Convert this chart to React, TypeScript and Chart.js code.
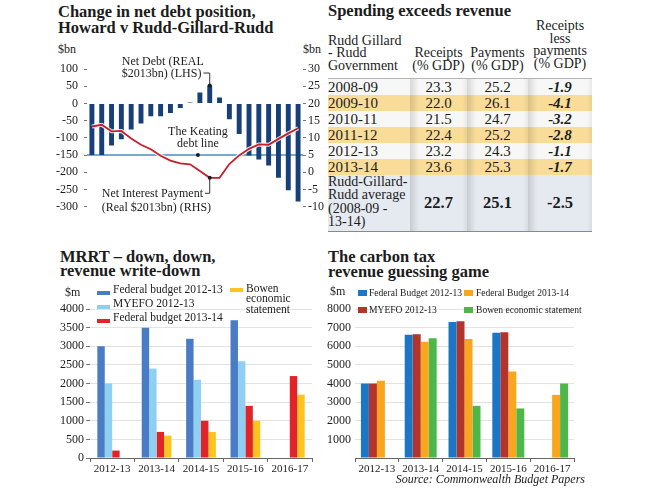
import React, { useEffect, useRef } from 'react';
import { Chart, registerables } from 'chart.js';

Chart.register(...registerables);

const SERIF = '"Liberation Serif", "Times New Roman", serif';
const INK = '#1c1c1c';

// ---------- Panel 1: Change in net debt position ----------
const debtYears = ['1995-96', '1996-97', '1997-98', '1998-99', '1999-00', '2000-01', '2001-02', '2002-03', '2003-04', '2004-05', '2005-06', '2006-07', '2007-08', '2008-09', '2009-10', '2010-11', '2011-12', '2012-13', '2013-14', '2014-15', '2015-16', '2016-17'];
const netDebt = [-150, -150, -122, -104, -76, -58, -37, -37, -28, -13, 3, 32, 52, 17, -46, -89, -151, -163, -180, -216, -252, -285];
const netInterest = [13.3, 13.8, 11.9, 12.0, 9.8, 8.0, 6.7, 4.8, 3.4, 2.6, 2.3, 0.4, -1.6, -1.6, 2.4, 4.9, 6.8, 8.1, 8.0, 9.7, 11.3, 12.8];
const keatingDebt = -150;

// ---------- Panel 2: Spending exceeds revenue ----------
const tableYears = ['2008-09', '2009-10', '2010-11', '2011-12', '2012-13', '2013-14'];
const receipts = [23.3, 22.0, 21.5, 22.4, 23.2, 23.6];
const payments = [25.2, 26.1, 24.7, 25.2, 24.3, 25.3];
const balance = [-1.9, -4.1, -3.2, -2.8, -1.1, -1.7];
const avgReceipts = 22.7;
const avgPayments = 25.1;
const avgBalance = -2.5;

// ---------- Panel 3: MRRT ----------
const mrrtYears = ['2012-13', '2013-14', '2014-15', '2015-16', '2016-17'];
const mrrtBudget1213 = [3000, 3500, 3200, 3700, null];
const mrrtMyefo1213 = [2000, 2400, 2100, 2600, null];
const mrrtBudget1314 = [200, 700, 1000, 1400, 2200];
const mrrtBowen = [null, 600, 700, 1000, 1700];
const mrrtLabels = ['Federal budget 2012-13', 'MYEFO 2012-13', 'Federal budget 2013-14', 'Bowen economic statement'];
const mrrtColors = ['#4a7cc6', '#8fcff2', '#e2232a', '#fdc31e'];

// ---------- Panel 4: Carbon tax ----------
const carbonYears = ['2012-13', '2013-14', '2014-15', '2015-16', '2016-17'];
const ctBudget1213 = [4000, 6620, 7300, 6720, null];
const ctMyefo1213 = [4000, 6640, 7340, 6750, null];
const ctBudget1314 = [4150, 6240, 6390, 4640, 3390];
const ctBowen = [null, 6430, 2800, 2660, 4000];
const ctLabels = ['Federal Budget 2012-13', 'MYEFO 2012-13', 'Federal Budget 2013-14', 'Bowen economic statement'];
const ctColors = ['#1c76c6', '#b3342a', '#f9a61f', '#4db849'];

const debtNotes = {
  id: 'debtNotes',
  beforeDatasetsDraw(chart: any) {
    const { ctx, chartArea, scales } = chart;
    const y = scales.y.getPixelForValue(keatingDebt);
    ctx.save();
    ctx.strokeStyle = '#4b8cba';
    ctx.lineWidth = 1.5;
    ctx.beginPath();
    ctx.moveTo(chartArea.left, y);
    ctx.lineTo(chartArea.right, y);
    ctx.stroke();
    ctx.restore();
  },
  afterDatasetsDraw(chart: any) {
    const { ctx, scales } = chart;
    const xs = scales.x;
    const ys = scales.y;
    const y1 = scales.y1;
    ctx.save();
    ctx.font = `12px ${SERIF}`;
    ctx.fillStyle = INK;
    ctx.strokeStyle = '#333';
    ctx.lineWidth = 1;
    const dot = (x: number, y: number) => {
      ctx.beginPath();
      ctx.arc(x, y, 2, 0, Math.PI * 2);
      ctx.fill();
    };
    // Net debt label
    const iPeak = netDebt.indexOf(Math.max(...netDebt));
    const px = xs.getPixelForValue(iPeak);
    const py = ys.getPixelForValue(netDebt[iPeak]);
    ctx.textAlign = 'left';
    ctx.textBaseline = 'alphabetic';
    const tx = px - 88;
    ctx.fillText('Net Debt (REAL', tx, py - 21);
    ctx.fillText('$2013bn) (LHS)', tx, py - 9);
    const w1 = ctx.measureText('$2013bn) (LHS)').width;
    ctx.beginPath();
    ctx.moveTo(tx + w1 + 2, py - 12.5);
    ctx.lineTo(px, py - 12.5);
    ctx.lineTo(px, py);
    ctx.stroke();
    dot(px, py);
    // Keating label
    const kx = xs.getPixelForValue(11) - 2;
    const ky = ys.getPixelForValue(keatingDebt);
    ctx.textAlign = 'center';
    ctx.fillText('The Keating', kx, ky - 20.5);
    ctx.fillText('debt line', kx, ky - 8.5);
    dot(kx, ky);
    // Net interest label
    const iMin = netInterest.indexOf(Math.min(...netInterest));
    const mx = xs.getPixelForValue(iMin);
    const my = y1.getPixelForValue(netInterest[iMin]);
    ctx.textAlign = 'left';
    const nx = mx - 108;
    ctx.fillText('Net Interest Payment', nx, my + 19.5);
    ctx.fillText('(Real $2013bn) (RHS)', nx, my + 33.5);
    const w2 = ctx.measureText('Net Interest Payment').width;
    ctx.beginPath();
    ctx.moveTo(nx + w2 + 2, my + 15.5);
    ctx.lineTo(mx, my + 15.5);
    ctx.lineTo(mx, my);
    ctx.stroke();
    dot(mx, my);
    ctx.restore();
  },
};

const tickFont = (size: number) => ({ family: SERIF, size });
const plain = (v: any) => String(v);

function groupedBarConfig(labels: string[], series: any[], names: string[], colors: string[], yMax: number, step: number, carbon: boolean): any {
  return {
    type: 'bar',
    data: {
      labels,
      datasets: series.map((d, i) => ({ label: names[i], data: d, backgroundColor: colors[i], borderWidth: 0 })),
    },
    options: {
      animation: false,
      responsive: false,
      devicePixelRatio: 1,
      events: [],
      layout: { padding: carbon ? { top: 29, left: 2, right: 16, bottom: 0 } : { top: 29, left: 0, right: 13, bottom: 0 } },
      datasets: { bar: { categoryPercentage: carbon ? 0.73 : 0.67, barPercentage: 1 } },
      plugins: { legend: { display: false }, tooltip: { enabled: false } },
      scales: {
        x: {
          afterFit: (s: any) => { s.height = 22; },
          border: { display: true, color: '#666', width: 1 },
          grid: { offset: true, drawOnChartArea: false, drawTicks: true, tickLength: 4, color: '#666' },
          ticks: { padding: 1, color: INK, font: tickFont(11), maxRotation: 0, autoSkip: false },
        },
        y: {
          min: 0,
          max: yMax,
          afterFit: (s: any) => { s.width = carbon ? 28 : 50; },
          border: { display: false },
          grid: carbon
            ? { color: '#e3e3e3', drawTicks: false }
            : { color: '#e3e3e3', drawTicks: true, tickLength: 4, tickColor: '#777' },
          ticks: carbon
            ? { stepSize: step, padding: 0, autoSkip: false, crossAlign: 'far', color: INK, font: tickFont(12), callback: (v: any) => (v === 0 ? '' : plain(v)) }
            : { stepSize: step, padding: 2, autoSkip: false, color: INK, font: tickFont(12), callback: plain },
        },
      },
    },
  };
}

const abs = (left: number, top: number, extra: any = {}) => ({ position: 'absolute' as const, left, top, ...extra });

function Text({ x, base, size, children, bold, italic, style }: any) {
  return (
    <div style={abs(x, base - 0.8375 * size, { fontSize: size, lineHeight: `${size}px`, fontWeight: bold ? 'bold' : 'normal', fontStyle: italic ? 'italic' : 'normal', whiteSpace: 'nowrap', ...style })}>
      {children}
    </div>
  );
}

export default function App() {
  const debtRef = useRef<HTMLCanvasElement>(null);
  const mrrtRef = useRef<HTMLCanvasElement>(null);
  const carbonRef = useRef<HTMLCanvasElement>(null);

  useEffect(() => {
    Chart.defaults.font.family = SERIF;
    const charts: Chart[] = [];
    charts.push(
      new Chart(debtRef.current!, {
        type: 'bar',
        data: {
          labels: debtYears,
          datasets: [
            { type: 'bar', label: 'Net Debt (REAL $2013bn) (LHS)', data: netDebt, backgroundColor: '#173f78', yAxisID: 'y', order: 3 } as any,
            { type: 'line', label: 'halo', data: netInterest, borderColor: 'rgba(255,255,255,0.85)', borderWidth: 4, pointRadius: 0, yAxisID: 'y1', order: 2 } as any,
            { type: 'line', label: 'Net Interest Payment (Real $2013bn) (RHS)', data: netInterest, borderColor: '#c3202c', borderWidth: 1.8, pointRadius: 0, yAxisID: 'y1', order: 1 } as any,
          ],
        },
        options: {
          animation: false,
          responsive: false,
          devicePixelRatio: 1,
          events: [],
          layout: { padding: { top: 29, bottom: 15.3, left: 0, right: 0 } },
          datasets: { bar: { categoryPercentage: 1, barPercentage: 0.5 } },
          plugins: { legend: { display: false }, tooltip: { enabled: false } },
          scales: {
            x: { display: false, offset: true },
            y: {
              position: 'left',
              min: -300,
              max: 100,
              afterFit: (s: any) => { s.width = 47; },
              border: { display: false },
              grid: { drawOnChartArea: false, drawTicks: true, tickLength: 3, tickColor: '#777' },
              ticks: { stepSize: 50, padding: 6, autoSkip: false, color: INK, font: tickFont(12), callback: plain },
            },
            y1: {
              position: 'right',
              min: -10,
              max: 30,
              afterFit: (s: any) => { s.width = 22; },
              border: { display: false },
              grid: { drawOnChartArea: false, drawTicks: true, tickLength: 3, tickColor: '#777' },
              ticks: { stepSize: 5, padding: 2, autoSkip: false, color: INK, font: tickFont(12), callback: plain },
            },
          },
        } as any,
        plugins: [debtNotes],
      })
    );
    charts.push(
      new Chart(mrrtRef.current!, groupedBarConfig(mrrtYears, [mrrtBudget1213, mrrtMyefo1213, mrrtBudget1314, mrrtBowen], mrrtLabels, mrrtColors, 4000, 500, false))
    );
    charts.push(
      new Chart(carbonRef.current!, groupedBarConfig(carbonYears, [ctBudget1213, ctMyefo1213, ctBudget1314, ctBowen], ctLabels, ctColors, 8000, 1000, true))
    );
    return () => charts.forEach((c) => c.destroy());
  }, []);

  const yellow = '#f8dc98';
  const numShade = (bg: string) => `linear-gradient(90deg, rgba(0,0,0,0.13) 0px, rgba(0,0,0,0) 9px, rgba(0,0,0,0) calc(100% - 5px), rgba(0,0,0,0.06) 100%), ${bg}`;
  const hdr: any = { fontWeight: 'normal', fontSize: 14, lineHeight: '12.5px', verticalAlign: 'bottom', padding: '0 0 6px 0', textAlign: 'center' };
  const cell: any = { padding: 0, fontSize: 15, lineHeight: '16px', height: 16, textAlign: 'center' };
  const avgNum: any = { padding: 0, textAlign: 'center', fontSize: 16.5, fontWeight: 'bold' };

  return (
    <div style={{ position: 'absolute', left: 0, top: 0, width: 650, height: 488, background: '#fff', overflow: 'hidden', fontFamily: SERIF, color: INK }}>
      {/* Titles */}
      <div style={abs(58, 4, { fontSize: 16.5, lineHeight: '16px', fontWeight: 'bold' })}>
        Change in net debt position,<br />Howard v Rudd-Gillard-Rudd
      </div>
      <div style={abs(328, 3, { fontSize: 16.5, lineHeight: '16px', fontWeight: 'bold' })}>Spending exceeds revenue</div>
      <div style={abs(60, 250, { fontSize: 16.5, lineHeight: '14px', fontWeight: 'bold' })}>
        MRRT – down, down,<br />revenue write-down
      </div>
      <div style={abs(328, 249, { fontSize: 16.5, lineHeight: '15px', fontWeight: 'bold' })}>
        The carbon tax<br />revenue guessing game
      </div>

      {/* Panel 1 */}
      <Text x={58} base={53} size={12}>$bn</Text>
      <Text x={303} base={53} size={12}>$bn</Text>
      <canvas ref={debtRef} width={285} height={182} style={abs(40, 40)} />

      {/* Panel 2: table */}
      <table style={{ position: 'absolute', left: 328, top: 20, width: 264, borderCollapse: 'collapse', tableLayout: 'fixed', fontFamily: SERIF, color: INK }}>
        <colgroup>
          <col style={{ width: 82 }} />
          <col style={{ width: 57 }} />
          <col style={{ width: 61 }} />
          <col style={{ width: 64 }} />
        </colgroup>
        <thead>
          <tr style={{ height: 55, borderBottom: '1px solid #b5b5b5' }}>
            <th style={{ ...hdr, textAlign: 'left' }}>Rudd Gillard<br />- Rudd<br />Government</th>
            <th style={hdr}>Receipts<br />(% GDP)</th>
            <th style={hdr}>Payments<br />(% GDP)</th>
            <th style={{ ...hdr, paddingBottom: 8 }}>Receipts<br />less<br />payments<br />(% GDP)</th>
          </tr>
        </thead>
        <tbody>
          {tableYears.map((yr, i) => {
            const bg = i % 2 === 1 ? yellow : '#f7f7f7';
            return (
              <tr key={yr}>
                <td style={{ ...cell, textAlign: 'left', background: bg }}>{yr}</td>
                <td style={{ ...cell, background: numShade(bg) }}>{receipts[i].toFixed(1)}</td>
                <td style={{ ...cell, background: numShade(bg) }}>{payments[i].toFixed(1)}</td>
                <td style={{ ...cell, background: numShade(bg), fontWeight: 'bold', fontStyle: 'italic' }}>{balance[i].toFixed(1)}</td>
              </tr>
            );
          })}
          <tr style={{ height: 56, borderBottom: '1.5px solid #8a8a8a' }}>
            <td style={{ padding: 0, fontSize: 14, lineHeight: '13.3px', verticalAlign: 'top', background: '#e5eaf0' }}>
              Rudd-Gillard-<br />Rudd average<br />(2008-09 -<br />13-14)
            </td>
            <td style={{ ...avgNum, background: numShade('#e5eaf0') }}>{avgReceipts.toFixed(1)}</td>
            <td style={{ ...avgNum, background: numShade('#e5eaf0') }}>{avgPayments.toFixed(1)}</td>
            <td style={{ ...avgNum, background: numShade('#e5eaf0') }}>{avgBalance.toFixed(1)}</td>
          </tr>
        </tbody>
      </table>

      {/* Panel 3: MRRT */}
      <canvas ref={mrrtRef} width={285} height={200} style={abs(40, 280)} />
      <Text x={65} base={296} size={12}>$m</Text>
      {[0, 1, 2].map((i) => (
        <React.Fragment key={i}>
          <div style={abs(97, 290.5 + i * 14, { width: 13, height: 4, background: mrrtColors[i] })} />
          <Text x={113} base={294 + i * 14} size={11.5}>{mrrtLabels[i]}</Text>
        </React.Fragment>
      ))}
      <div style={abs(230, 288, { width: 13, height: 4, background: mrrtColors[3] })} />
      <div style={abs(246, 283, { fontSize: 11.5, lineHeight: '10.3px', whiteSpace: 'nowrap' })}>
        Bowen<br />economic<br />statement
      </div>

      {/* Panel 4: Carbon tax */}
      <canvas ref={carbonRef} width={265} height={200} style={abs(325, 280)} />
      <Text x={330} base={295} size={12}>$m</Text>
      {ctLabels.map((lab, i) => {
        const c = i < 2 ? 0 : 1;
        const r = i % 2;
        const mx = c === 0 ? 358 : 464;
        const tx = c === 0 ? 368.5 : 476;
        return (
          <React.Fragment key={lab}>
            <div style={abs(mx, 290 + r * 17, { width: 9, height: 6, background: ctColors[i] })} />
            <Text x={tx} base={296.5 + r * 17} size={11} style={{ transform: 'scaleX(0.87)', transformOrigin: 'left center' }}>{lab}</Text>
          </React.Fragment>
        );
      })}
      <div style={{ position: 'absolute', right: 65, top: 472, fontSize: 12, lineHeight: '14px', fontStyle: 'italic', whiteSpace: 'nowrap' }}>
        Source: Commonwealth Budget Papers
      </div>
    </div>
  );
}
